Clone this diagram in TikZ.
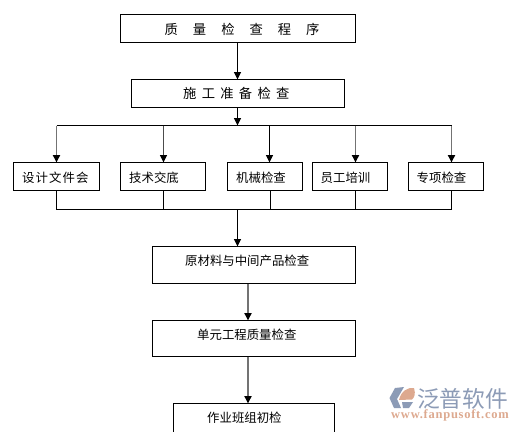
\documentclass[tikz,border=0pt]{standalone}
\usepackage{fontspec}
\setmainfont{Noto Sans CJK SC}
\newfontfamily\urlfont{Liberation Serif}[LetterSpace=6]
\usetikzlibrary{arrows.meta}
\definecolor{wmblue}{HTML}{8C9BB6}
\definecolor{wmorange}{HTML}{DDA98F}
\tikzset{
  x=1pt,y=-1pt,
  boxs/.style={draw=black,line width=1pt,inner sep=0pt,outer sep=0pt,fill=white},
  lab/.style={inner sep=0pt,anchor=west,font=\fontsize{13.3pt}{13.3pt}\selectfont},
  slab/.style={inner sep=0pt,anchor=west,font=\fontsize{12.4pt}{12.4pt}\selectfont},
  conn/.style={line width=1pt,black},
  arr/.style={conn,-{Triangle[width=7pt,length=7.5pt]}},
  garr/.style={arr,line width=1.8pt,draw=black!55,-{Triangle[width=7pt,length=7.5pt,color=black]}},
  darr/.style={arr,line width=1.4pt,draw=black!70,-{Triangle[width=7pt,length=7.5pt,color=black]}},
}
\newcommand{\bx}[5]{\node[boxs,minimum width={#4-#2},minimum height={#5-#3},anchor=north west] (#1) at (#2,#3) {};}
\begin{document}
\begin{tikzpicture}[line cap=butt]
\useasboundingbox (0,0) rectangle (519,431);
\fill[white] (0,0) rectangle (519,431);
% boxes
\bx{q}{120.5}{14.5}{355.5}{42.5}
\bx{p}{131.5}{79.5}{344.5}{107.5}
\bx{d1}{13.5}{162.5}{99.5}{190.5}
\bx{d2}{120.5}{162.5}{205.5}{190.5}
\bx{d3}{227.5}{162.5}{302.5}{190.5}
\bx{d4}{312.5}{162.5}{387.5}{190.5}
\bx{d5}{408.5}{162.5}{483.5}{190.5}
\bx{m}{152.5}{246.5}{355.5}{283.5}
\bx{u}{152.5}{320.5}{355.5}{356.5}
\bx{c}{173.5}{403.5}{334.5}{436}
% labels
\node[lab] (tq) at (164.5,29) {质\hspace{15pt}量\hspace{15pt}检\hspace{15pt}查\hspace{15pt}程\hspace{15pt}序};
\node[lab] (tp) at (183,93.5) {施\hspace{5.3pt}工\hspace{5.3pt}准\hspace{5.3pt}备\hspace{5.3pt}检\hspace{5.3pt}查};
\node[slab] (t1) at (22,177.5) {设\hspace{1.1pt}计\hspace{1.1pt}文\hspace{1.1pt}件\hspace{1.1pt}会};
\node[slab] (t2) at (129,177.5) {技术交底};
\node[slab] (t3) at (236,177.5) {机械检查};
\node[slab] (t4) at (320.5,177.5) {员工培训};
\node[slab] (t5) at (416.5,177.5) {专项检查};
\node[slab] (tm) at (185,260.5) {原材料与中间产品检查};
\node[slab] (tu) at (197,335) {单元工程质量检查};
\node[slab] (tc) at (207,417.5) {作业班组初检};
% junctions
\coordinate (top) at (237.5,125.5);
\coordinate (busL) at (56.5,125.5);
\coordinate (busR) at (451.5,125.5);
\coordinate (low) at (237.5,209.5);
\coordinate (lowL) at (56.5,209.5);
\coordinate (lowR) at (451.5,209.5);
\coordinate (x2) at (163.5,0);
\coordinate (x3) at (269.5,0);
\coordinate (x4) at (355.5,0);
\coordinate (xs3) at (270.5,0);
\coordinate (xm) at (248,0);
% connectors
\draw[arr] (q.south -| top) -- (p.north -| top);
\draw[arr] (p.south -| top) -- (top);
\draw[conn] (busL) -- (busR);
\draw[garr] (busL) -- (d1.north -| busL);
\draw[darr] (busL -| x2) -- (d2.north -| x2);
\draw[arr] (busL -| x3) -- (d3.north -| x3);
\draw[garr] (busL -| x4) -- (d4.north -| x4);
\draw[garr] (busR) -- (d5.north -| busR);
\draw[conn] (d1.south -| lowL) -- (lowL) -- (lowR) -- (d5.south -| lowR);
\draw[conn] (d2.south -| x2) -- (lowL -| x2);
\draw[conn] (d3.south -| xs3) -- (lowL -| xs3);
\draw[conn] (d4.south -| x4) -- (lowL -| x4);
\draw[arr] (low) -- (m.north -| low);
\draw[garr] (m.south -| xm) -- (u.north -| xm);
\draw[garr] (u.south -| xm) -- (c.north -| xm);
% watermark
\fill[wmblue] (395,388) -- (404,387) -- (397,399) -- (401,408) -- (394,408) -- (389.5,398) -- cycle;
\fill[wmorange] (399,400) .. controls (401,391) and (408,387) .. (414,388) .. controls (416,394) and (414,398) .. (412,399.5) -- cycle;
\fill[wmblue] (402,402) -- (413,402) -- (409,408) -- (403,408) -- cycle;
\node[inner sep=0pt,anchor=west,text=wmblue,font=\fontsize{22.7pt}{22.7pt}\selectfont] (wm) at (417,398.5) {泛普软件};
\node[inner sep=0pt,anchor=west,text=wmorange,font=\urlfont\bfseries\fontsize{12.5pt}{12.5pt}\selectfont] (wu) at (391,415.5) {www.fanpusoft.com};
\end{tikzpicture}
\end{document}
